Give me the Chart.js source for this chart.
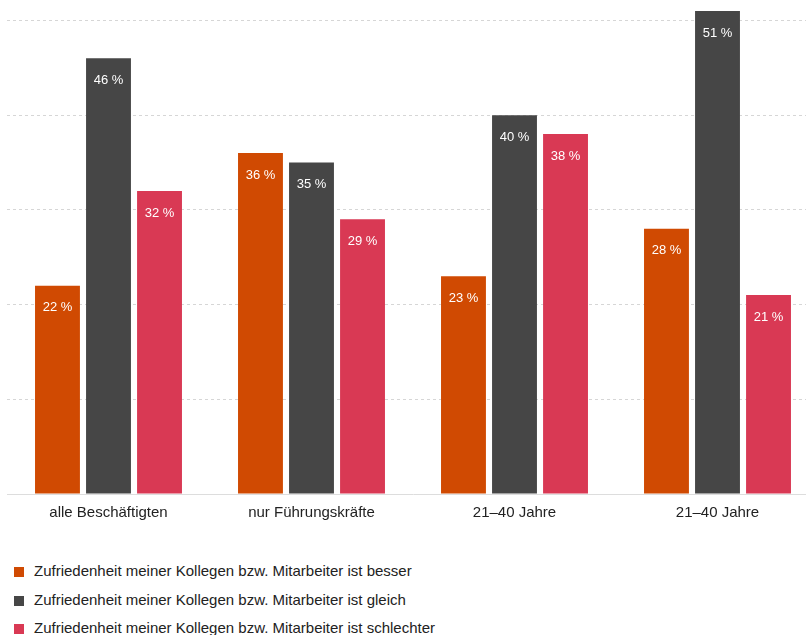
<!DOCTYPE html>
<html>
<head>
<meta charset="utf-8">
<script src="https://cdn.jsdelivr.net/npm/chart.js@4"></script>
<style>
  html, body { margin: 0; padding: 0; background: #fff; overflow: hidden; width: 806px; height: 635px; }
  #wrap { position: absolute; left: 0; top: 0; width: 821px; height: 532px; }
  #legend { position: absolute; left: 14px; top: 557px; font-family: "Liberation Sans", Arial, sans-serif; font-size: 15px; color: #222; }
  .item { height: 28.5px; line-height: 28.5px; white-space: nowrap; }
  .box { display: inline-block; width: 10px; height: 10px; margin-right: 10px; vertical-align: -1px; }
</style>
</head>
<body>
<div id="wrap"><canvas id="myChart" width="819" height="532"></canvas></div>
<div id="legend"></div>
<script>
const categories = ['alle Beschäftigten', 'nur Führungskräfte', '21–40 Jahre', '21–40 Jahre'];
const seriesNames = [
  'Zufriedenheit meiner Kollegen bzw. Mitarbeiter ist besser',
  'Zufriedenheit meiner Kollegen bzw. Mitarbeiter ist gleich',
  'Zufriedenheit meiner Kollegen bzw. Mitarbeiter ist schlechter'
];
const besser = [22, 36, 23, 28];
const gleich = [46, 35, 40, 51];
const schlechter = [32, 29, 38, 21];
const gridTicks = [0, 10, 20, 30, 40, 50];
const colors = ['#D04A02', '#464646', '#D93954'];

// Werte als Text in den Balken
const barLabels = {
  id: 'barLabels',
  afterDatasetsDraw(chart) {
    const c = chart.ctx;
    c.save();
    c.fillStyle = '#fff';
    c.font = '13px "Liberation Sans", Arial, sans-serif';
    c.textAlign = 'center';
    c.textBaseline = 'middle';
    chart.data.datasets.forEach((ds, i) => {
      chart.getDatasetMeta(i).data.forEach((bar, j) => {
        c.fillText(ds.data[j] + ' %', bar.x, bar.y + 22);
      });
    });
    c.restore();
  }
};

const ctx = document.getElementById('myChart');
const chart = new Chart(ctx, {
  type: 'bar',
  data: {
    labels: categories,
    datasets: [besser, gleich, schlechter].map((d, i) => ({
      label: seriesNames[i],
      data: d,
      backgroundColor: colors[i],
      barPercentage: 0.88,
      categoryPercentage: 0.754
    }))
  },
  options: {
    responsive: false,
    animation: false,
    layout: { padding: { left: 7, top: 11, right: 0, bottom: 0 } },
    plugins: {
      legend: { display: false },
      tooltip: { enabled: false }
    },
    scales: {
      x: {
        grid: { display: false, drawTicks: false },
        border: { display: true, color: '#dddddd', width: 1 },
        ticks: {
          color: '#222',
          padding: 10,
          font: { family: '"Liberation Sans", Arial, sans-serif', size: 15 }
        }
      },
      y: {
        min: 0,
        max: 51,
        afterBuildTicks: axis => { axis.ticks = gridTicks.map(v => ({ value: v })); },
        ticks: { display: false },
        grid: {
          drawTicks: false,
          color: c => (c.tick && c.tick.value > 0) ? '#d6d6d6' : 'transparent'
        },
        border: { display: false, dash: [3, 3] }
      }
    }
  },
  plugins: [barLabels]
});

// Legende als HTML, untereinander
const legend = document.getElementById('legend');
chart.data.datasets.forEach(ds => {
  const row = document.createElement('div');
  row.className = 'item';
  row.innerHTML = `<span class="box" style="background:${ds.backgroundColor}"></span>${ds.label}`;
  legend.appendChild(row);
});
</script>
</body>
</html>
